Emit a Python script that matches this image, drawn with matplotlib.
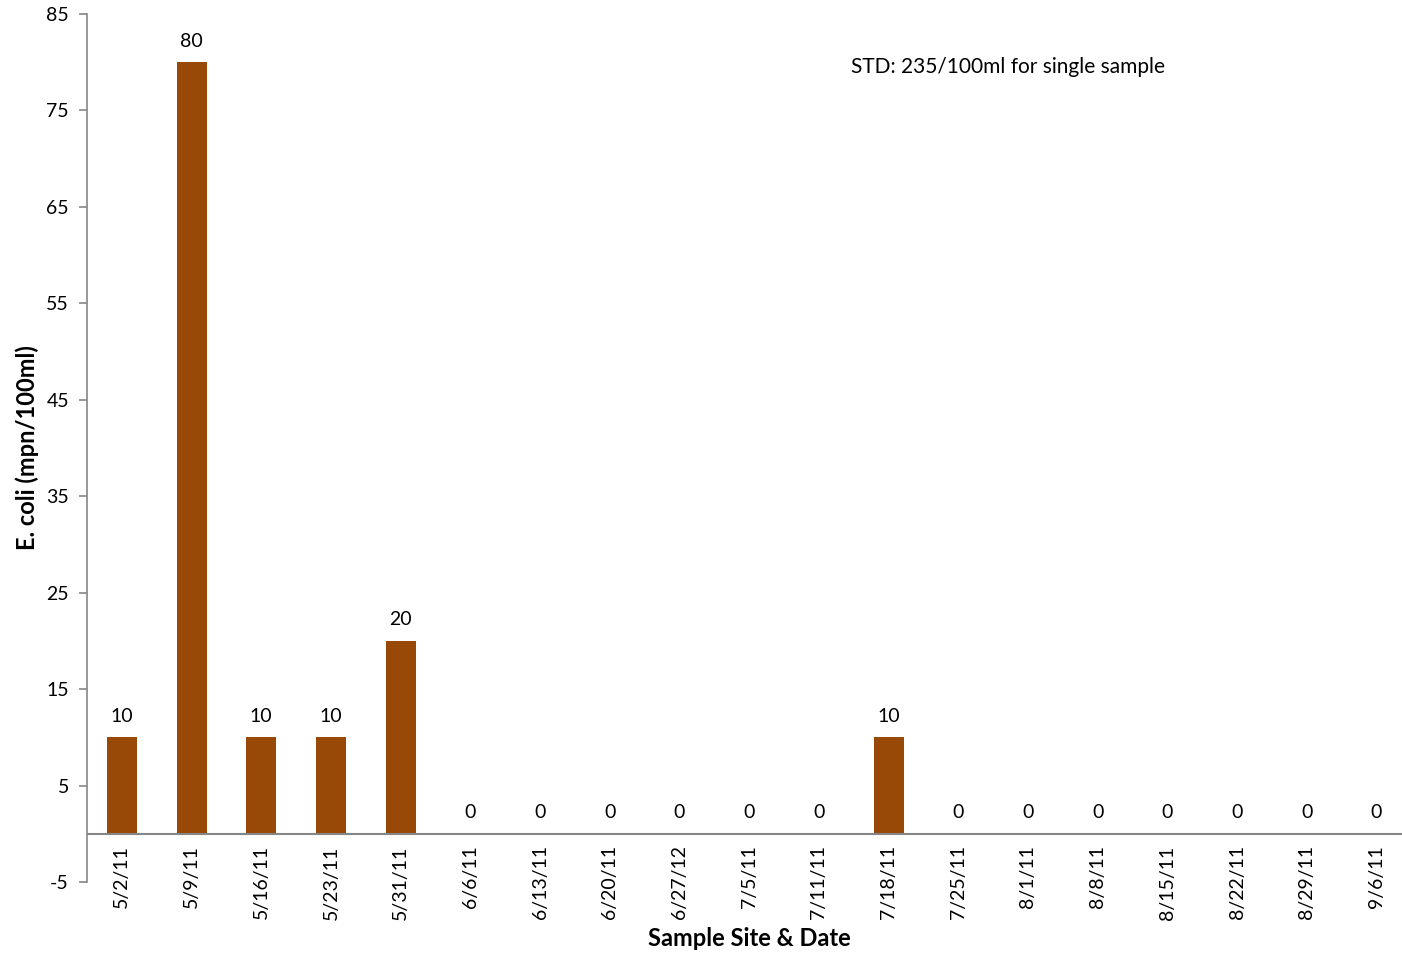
import numpy as np
import matplotlib.pyplot as plt

plt.rcParams['font.family'] = ['Lato', 'DejaVu Sans']
plt.rcParams['axes.unicode_minus'] = False

dates = ["5/2/11", "5/9/11", "5/16/11", "5/23/11", "5/31/11", "6/6/11", "6/13/11",
         "6/20/11", "6/27/12", "7/5/11", "7/11/11", "7/18/11", "7/25/11", "8/1/11",
         "8/8/11", "8/15/11", "8/22/11", "8/29/11", "9/6/11"]
ecoli = [10, 80, 10, 10, 20, 0, 0, 0, 0, 0, 0, 10, 0, 0, 0, 0, 0, 0, 0]
yticks = [-5, 5, 15, 25, 35, 45, 55, 65, 75, 85]

bar_color = "#984807"
axis_gray = "#868686"

fig = plt.figure(figsize=(14.02, 9.55), dpi=100)
ax = fig.add_axes([87/1402, 73/955, 1315/1402, 868/955])

x = np.arange(len(dates))
ax.bar(x, ecoli, width=0.43, color=bar_color, zorder=2)

# data labels above bars
for xi, v in zip(x, ecoli):
    ax.text(xi, v + 1.3, str(v), ha="center", va="bottom", fontsize=14)

ax.set_xlim(-0.5, -0.5 + 1315/69.7)
ax.set_ylim(-5, 85)
ax.set_yticks(yticks)
ax.tick_params(axis="y", labelsize=14, length=6, color=axis_gray, width=1.2, pad=7)

ax.set_xticks([])
for xi, d in zip(x, dates):
    ax.text(xi, -1.2, d, rotation=90, ha="center", va="top", fontsize=14)

ax.axhline(0, color=axis_gray, lw=1.5, zorder=3)
for s in ["top", "right", "bottom"]:
    ax.spines[s].set_visible(False)
ax.spines["left"].set_color(axis_gray)
ax.spines["left"].set_linewidth(1.2)

ax.set_ylabel("E. coli (mpn/100ml)", fontsize=17, fontweight="bold", labelpad=5)
fig.text(749/1402, 1 - 938/955, "Sample Site & Date", ha="center", va="center",
         fontsize=17, fontweight="bold")
fig.text(851/1402, 1 - 67/955, "STD: 235/100ml for single sample", ha="left",
         va="center", fontsize=15)

fig.savefig("out.png", dpi=100)
